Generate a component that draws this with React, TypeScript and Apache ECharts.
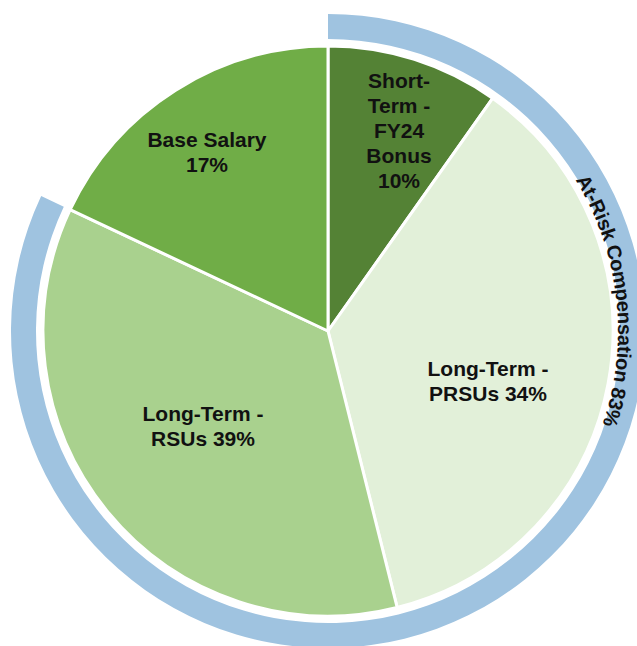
import React, { useEffect, useRef } from "react";
import * as echarts from "echarts";

// ---- data ----
const categories = ["Short-Term - FY24 Bonus", "Long-Term - PRSUs", "Long-Term - RSUs", "Base Salary"];
const labelNames = ["Short-\nTerm -\nFY24\nBonus", "Long-Term -\nPRSUs", "Long-Term -\nRSUs", "Base Salary"];
const labelJoiners = ["\n", " ", " ", "\n"];
const labelPercents = [10, 34, 39, 17];
// slice sizes as drawn in the picture
const sliceShares = [9.8, 36.3, 35.9, 18.0];
const atRiskFlags = [true, true, true, false];
const ringTitle = "At-Risk Compensation";
const ringPercent = 83;

// ---- style / layout ----
const sliceColors = ["#548235", "#E2F0D9", "#A9D18E", "#70AD47"];
const ringColor = "#9FC3E0";
const labelCenters = [
  [399, 130],
  [488, 381],
  [203, 426],
  [207, 152],
];
const CX = 328;
const CY = 331;
const FONT_FAMILY = "'Liberation Sans', Arial, sans-serif";
const FONT = `bold 21px ${FONT_FAMILY}`;
const RING_FONT = `bold 20px ${FONT_FAMILY}`;
const TEXT_COLOR = "#111111";

export default function App() {
  const ref = useRef<HTMLDivElement>(null);

  useEffect(() => {
    if (!ref.current) return;
    const chart = echarts.init(ref.current, undefined, { renderer: "svg" });

    const atRiskTotal = sliceShares.reduce((s, v, i) => (atRiskFlags[i] ? s + v : s), 0);
    const otherTotal = sliceShares.reduce((s, v, i) => (atRiskFlags[i] ? s : s + v), 0);

    // slice labels
    const sliceLabels = categories.map((c, i) => ({
      type: "text",
      x: labelCenters[i][0],
      y: labelCenters[i][1],
      z: 100,
      silent: true,
      style: {
        text: `${labelNames[i]}${labelJoiners[i]}${labelPercents[i]}%`,
        font: FONT,
        fill: TEXT_COLOR,
        textAlign: "center",
        textVerticalAlign: "middle",
        lineHeight: 25,
      },
    }));

    // curved ring label
    const ringText = `${ringTitle} ${ringPercent}%`;
    const canvas = document.createElement("canvas");
    const ctx = canvas.getContext("2d")!;
    ctx.font = RING_FONT;
    const chars = Array.from(ringText);
    const widths = chars.map((ch) => ctx.measureText(ch).width);
    const total = widths.reduce((a, b) => a + b, 0);
    const rText = 297;
    const mid = (83.7 * Math.PI) / 180;
    let a = mid - total / 2 / rText;
    const curved = chars.map((ch, i) => {
      const ac = a + widths[i] / 2 / rText;
      a += widths[i] / rText;
      return {
        type: "text",
        x: CX + rText * Math.sin(ac),
        y: CY - rText * Math.cos(ac),
        rotation: -ac,
        z: 100,
        silent: true,
        style: {
          text: ch,
          font: RING_FONT,
          fill: TEXT_COLOR,
          textAlign: "center",
          textVerticalAlign: "middle",
        },
      };
    });

    chart.setOption({
      animation: false,
      backgroundColor: "#ffffff",
      series: [
        {
          type: "pie",
          silent: true,
          center: [CX, CY],
          radius: [0, 285],
          startAngle: 90,
          clockwise: true,
          label: { show: false },
          labelLine: { show: false },
          itemStyle: { borderColor: "#ffffff", borderWidth: 3 },
          data: categories.map((c, i) => ({
            name: c,
            value: sliceShares[i],
            itemStyle: { color: sliceColors[i] },
          })),
        },
        {
          type: "pie",
          silent: true,
          center: [CX, CY],
          radius: [292, 317],
          startAngle: 90,
          clockwise: true,
          label: { show: false },
          labelLine: { show: false },
          data: [
            { name: ringTitle, value: atRiskTotal, itemStyle: { color: ringColor } },
            { name: "other", value: otherTotal, itemStyle: { color: "rgba(0,0,0,0)" } },
          ],
        },
      ],
      graphic: [...sliceLabels, ...curved],
    });

    return () => chart.dispose();
  }, []);

  return (
    <div
      ref={ref}
      style={{ position: "fixed", left: 0, top: 0, width: 637, height: 646, background: "#fff" }}
    />
  );
}
